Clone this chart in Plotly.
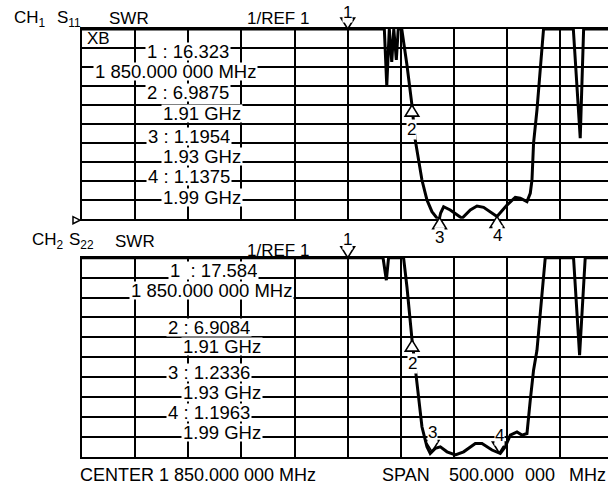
import numpy as np
import plotly.graph_objects as go

# ---------------- data ----------------
center_mhz = 1850.0
span_mhz = 500.0
ref_value = 1.0          # SWR at the reference (bottom) line
per_div = 1.0            # SWR per division
n_div = 10

# CH1  S11  SWR trace
ch1_freq = [1600, 1884.4, 1886.7, 1889.1, 1891.4, 1893.3, 1895.7, 1897.5, 1900.8,
            1905.7, 1910.4, 1913.5, 1919.8, 1924.5, 1929.2, 1934.0, 1936.2, 1937.4,
            1940.2, 1946.4, 1957.5, 1965.3, 1971.6, 1977.8, 1990.4, 1999.8, 2007.6,
            2012.3, 2018.6, 2021.7, 2023.3, 2024.8, 2028.0, 2034.2, 2062.2, 2068.7,
            2071.9, 2100]
ch1_swr = [11, 11, 8.0, 11, 9.26, 11, 9.37, 11, 11,
           9.10, 6.9875, 5.15, 3.04, 1.99, 1.37, 1.03, 1.01, 1.30,
           1.63, 1.46, 1.02, 1.46, 1.67, 1.60, 1.12, 1.72, 2.13,
           2.08, 1.90, 2.34, 3.04, 4.99, 6.73, 11, 11, 5.25,
           11, 11]

# CH2  S22  SWR trace
ch2_freq = [1600, 1883.2, 1886.3, 1888.4, 1902.5, 1905.7, 1910.4, 1913.5, 1916.6,
            1919.8, 1924.5, 1927.6, 1932.3, 1937.1, 1943.4, 1951.2, 1959.0, 1970.0,
            1976.3, 1985.7, 1993.5, 1998.2, 2002.9, 2009.2, 2013.9, 2018.6, 2021.7,
            2024.8, 2028.0, 2035.8, 2062.4, 2068.1, 2073.4, 2100]
ch2_swr = [11, 11, 9.87, 11, 11, 9.53, 6.9084, 5.36, 3.85,
           2.51, 1.50, 1.17, 1.42, 1.50, 1.25, 1.09, 1.25, 1.67,
           1.67, 1.34, 1.17, 1.50, 2.09, 2.25, 2.09, 2.17, 3.85,
           5.35, 6.35, 11, 11, 6.10, 11, 11]

marker_ids = ["1", "2", "3", "4"]
ch1_marker_freq = [1850, 1910.4, 1936.4, 1990.4]
ch2_marker_freq = [1850, 1910.5, 1929.3, 1992.5]

ch1_readout = ["1 : 16.323", "1 850.000 000 MHz", "2 : 6.9875", "1.91 GHz",
               "3 : 1.1954", "1.93 GHz", "4 : 1.1375", "1.99 GHz"]
ch2_readout = ["1\u00a0 : 17.584", "1 850.000 000 MHz", "2 : 6.9084", "1.91 GHz",
               "3 : 1.2336", "1.93 GHz", "4 : 1.1963", "1.99 GHz"]

# ---------------- layout geometry ----------------
W, H = 608, 487
L, R, T, B = 82, 0, 29, 30
PW, PH = W - L - R, H - T - B
DIV_PX = 53.15                      # horizontal pixels per division
px_per_mhz = DIV_PX / (span_mhz / n_div)
f0 = center_mhz - span_mhz / 2
x_range = [f0, f0 + PW / px_per_mhz]

top_px = (29.0, 218.7)
bot_px = (257.7, 456.8)


def py2paper(y):
    return (H - B - y) / PH


def px2paper(x):
    return (x - L) / PW


dom1 = [py2paper(top_px[1]), py2paper(top_px[0])]
dom2 = [py2paper(bot_px[1]), py2paper(bot_px[0])]
y_lo = ref_value
y_hi = ref_value + n_div * per_div

FONT = "Liberation Sans, Arial, Helvetica, sans-serif"
BLACK = "#000000"

fig = go.Figure()

c1 = np.clip(np.array(ch1_swr, float), y_lo, y_hi)
c2 = np.clip(np.array(ch2_swr, float), y_lo, y_hi)

fig.add_trace(go.Scatter(x=ch1_freq, y=c1, mode="lines", xaxis="x", yaxis="y",
                         line=dict(color=BLACK, width=3), hoverinfo="skip"))
fig.add_trace(go.Scatter(x=ch2_freq, y=c2, mode="lines", xaxis="x2", yaxis="y2",
                         line=dict(color=BLACK, width=3), hoverinfo="skip"))

# markers sit on the trace
v1 = np.interp(ch1_marker_freq, ch1_freq, c1)
v2 = np.interp(ch2_marker_freq, ch2_freq, c2)
v1[0] = y_hi
v2[0] = y_hi

# +1: triangle pointing down (drawn above the point); -1: pointing up (below)
dir1 = [1, -1, -1, -1]
dir2 = [1, -1, 1, 1]
lab_shift1 = [17, -24, -20, -19]
lab_shift2 = [18, -23, 19, 17]
fill2 = ["white", "white", "rgba(0,0,0,0)", "rgba(0,0,0,0)"]
fill1 = ["white", "white", "white", "white"]

TRI_W, TRI_H = 6.8, 11.0

annotations = []
shapes = []


def add_markers(freqs, vals, dirs, shifts, fills, xa, ya):
    for f, v, d, s, fc, name in zip(freqs, vals, dirs, shifts, fills, marker_ids):
        hgt = TRI_H * d
        path = "M%.1f,%.1f L%.1f,%.1f L0,0 Z" % (-TRI_W, hgt, TRI_W, hgt)
        frac = (v - y_lo) / (y_hi - y_lo)          # position along the y axis
        shapes.append(dict(type="path", xref=xa, yref=ya + " domain", xsizemode="pixel",
                           ysizemode="pixel", xanchor=f, yanchor=frac, path=path,
                           line=dict(color=BLACK, width=1.6), fillcolor=fc,
                           layer="above"))
        annotations.append(dict(x=f, y=v, xref=xa, yref=ya, text=name, showarrow=False,
                                yshift=s, bgcolor="white", borderpad=0,
                                font=dict(family=FONT, size=17, color=BLACK)))


add_markers(ch1_marker_freq, v1, dir1, lab_shift1, fill1, "x", "y")
add_markers(ch2_marker_freq, v2, dir2, lab_shift2, fill2, "x2", "y2")

# reference level pointer (CH1)
shapes.append(dict(type="path", xref="x domain", yref="y domain", xsizemode="pixel",
                   ysizemode="pixel", xanchor=0, yanchor=0,
                   path="M-9,2 L-9,-5 L-2,-1.5 Z",
                   line=dict(color=BLACK, width=1.5), fillcolor="white", layer="above"))


def txt(text, x, y, size=18, anchor="left", bg=None, h=None):
    d = dict(x=px2paper(x), y=py2paper(y), xref="paper", yref="paper", text=text,
             showarrow=False, xanchor=anchor, yanchor="middle",
             font=dict(family=FONT, size=size, color=BLACK))
    if bg:
        d.update(bgcolor=bg, borderpad=1)
    if h:
        d.update(height=h)
    annotations.append(d)


# headers
txt("CH<sub>1</sub>", 12, 19, 17)
txt("S<sub>11</sub>", 55, 19, 17)
txt("SWR", 107, 19, 17)
txt("1/REF 1", 245, 19, 17)
txt("CH<sub>2</sub>", 30, 241, 17)
txt("S<sub>22</sub>", 67, 241, 17)
txt("SWR", 113, 241, 17)
txt("1/REF 1", 245, 250, 17)

txt("XB", 85, 38.5, 17)

# marker readouts
ch1_pos = [(187.5, 51.5), (175.7, 71.5), (187.5, 92.5), (201.5, 113),
           (188.5, 136.5), (201.5, 156.5), (188.5, 176.5), (201.5, 197.5)]
ch2_pos = [(213.5, 270), (211, 290), (209, 327), (221.5, 346),
           (209, 372), (221.5, 392), (209, 412), (221.5, 432)]
for t, (x, y) in zip(ch1_readout, ch1_pos):
    txt(t, x, y, 18.5, "center", "white", 15)
for t, (x, y) in zip(ch2_readout, ch2_pos):
    txt(t, x, y, 18.5, "center", "white", 15)

# footer
txt("CENTER 1 850.000 000 MHz", 78, 475, 18)
txt("SPAN", 380, 475, 18)
txt("500.000", 447, 475, 18)
txt("000", 523, 475, 18)
txt("MHz", 567, 475, 18)

axis_common = dict(showgrid=True, gridcolor=BLACK, gridwidth=2, showticklabels=False,
                   ticks="", zeroline=False, showline=True, linecolor=BLACK, linewidth=2)

fig.update_layout(
    width=W, height=H, margin=dict(l=L, r=R, t=T, b=B, autoexpand=False),
    paper_bgcolor="white", plot_bgcolor="white", showlegend=False,
    xaxis=dict(domain=[0, 1], anchor="y", range=x_range, tick0=f0,
               dtick=span_mhz / n_div, mirror=True, **axis_common),
    yaxis=dict(domain=dom1, anchor="x", range=[y_lo, y_hi], tick0=y_lo,
               dtick=per_div, **axis_common),
    xaxis2=dict(domain=[0, 1], anchor="y2", range=x_range, tick0=f0,
                dtick=span_mhz / n_div, mirror=True, **axis_common),
    yaxis2=dict(domain=dom2, anchor="x2", range=[y_lo, y_hi], tick0=y_lo,
                dtick=per_div, **axis_common),
    annotations=annotations,
    shapes=shapes,
)

fig.write_html("out.html", config={"displayModeBar": False},
               post_script="document.body.style.margin='0px';")
